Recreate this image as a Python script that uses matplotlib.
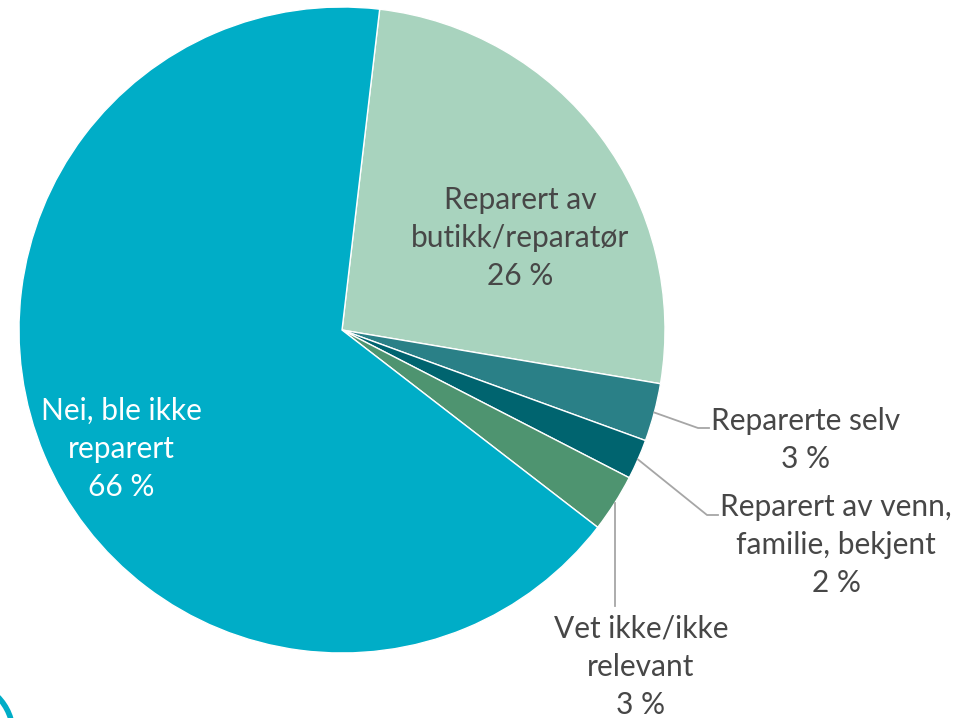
import numpy as np
import matplotlib
matplotlib.use("Agg")
import matplotlib.pyplot as plt
from matplotlib.patches import Circle

categories = ["Reparert av\nbutikk/reparatør", "Reparerte selv",
              "Reparert av venn,\nfamilie, bekjent", "Vet ikke/ikke\nrelevant",
              "Nei, ble ikke\nreparert"]
values = [25.8, 2.9, 2.0, 2.9, 66.4]
colors = ["#A8D3BE", "#2A8087", "#00646F", "#4E9470", "#00ADC7"]

W, H = 974, 718
fig = plt.figure(figsize=(W / 100, H / 100), dpi=100)
cx, cy, R = 342, 330, 323
ax = fig.add_axes([(cx - R) / W, (H - cy - R) / H, 2 * R / W, 2 * R / H])
wedges, _ = ax.pie(values, colors=colors, startangle=83.3, counterclock=False,
                   radius=1.0, wedgeprops=dict(edgecolor="white", linewidth=1.0))
ax.set_xlim(-1, 1)
ax.set_ylim(-1, 1)
ax.set_aspect("equal")
ax.axis("off")

FONT = dict(family=["Lato", "DejaVu Sans"], fontsize=21.5, weight="normal",
            linespacing=1.45, ha="center", va="center")
TXT = "#474747"


def px2d(px, py):
    return (px - cx) / R, (cy - py) / R


def lbl(i):
    return f"{categories[i]}\n{round(values[i]):.0f} %"


def mid(i):
    w = wedges[i]
    a = np.deg2rad((w.theta1 + w.theta2) / 2)
    return np.cos(a), np.sin(a)

# inside labels
ax.text(*px2d(520, 238), lbl(0), color=TXT, **FONT)
ax.text(*px2d(121, 449), lbl(4), color="white", **FONT)

# outside labels with leader lines
lc = "#A6A6A6"
# Reparerte selv
sx, sy = mid(1)
e = px2d(698, 428); h = px2d(709, 428)
ax.plot([sx, e[0], h[0]], [sy, e[1], h[1]], color=lc, lw=1.3, clip_on=False)
ax.text(*px2d(806, 440), lbl(1), color=TXT, clip_on=False, **FONT)
# venn
sx, sy = mid(2)
e = px2d(707, 515); h = px2d(718, 515)
ax.plot([sx, e[0], h[0]], [sy, e[1], h[1]], color=lc, lw=1.3, clip_on=False)
ax.text(*px2d(836, 545), lbl(2), color=TXT, clip_on=False, **FONT)
# vet ikke
sx, sy = mid(3)
e = px2d(sx * R + cx, 606)
ax.plot([sx, e[0]], [sy, e[1]], color=lc, lw=1.3, clip_on=False)
ax.text(*px2d(641, 667), lbl(3), color=TXT, clip_on=False, **FONT)

# decorative ring bottom-left
deco = fig.add_axes([0, 0, 1, 1], zorder=-1)
deco.set_xlim(0, W)
deco.set_ylim(H, 0)
deco.axis("off")
deco.add_patch(Circle((-40, 734), 53, fill=False, edgecolor="#00ADC7", lw=4))

fig.savefig("out.png", dpi=100)
